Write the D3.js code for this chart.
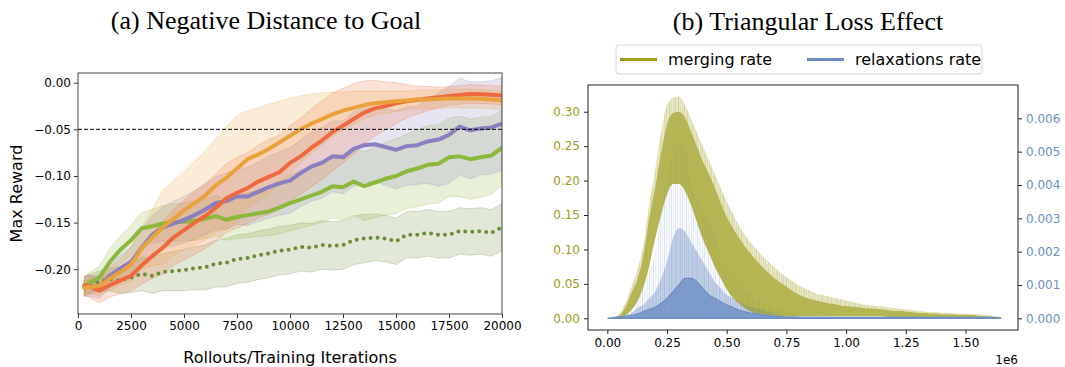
<!DOCTYPE html>
<html>
<head>
<meta charset="utf-8">
<script src="https://cdn.jsdelivr.net/npm/d3@7"></script>
<style>
  body { margin: 0; background: #fff; }
  text { font-family: "DejaVu Sans", sans-serif; }
  .title { font-family: "Liberation Serif", "Times New Roman", serif; font-size: 26px; }
</style>
</head>
<body>
<svg id="fig" width="1065" height="367"></svg>
<script>
// ---- (a) negative distance to goal ----
const iters = [300, 500, 1000, 1500, 2000, 2500, 3000, 3500, 4000, 4500,
  5000, 5500, 6000, 6500, 7000, 7500, 8000, 8500, 9000, 9500,
  10000, 10500, 11000, 11500, 12000, 12500, 13000, 13500, 14000, 14500,
  15000, 15500, 16000, 16500, 17000, 17500, 18000, 18500, 19000, 19500, 20000]

const orangeMean = [-0.220, -0.219, -0.218, -0.210, -0.203, -0.195, -0.178, -0.166, -0.155, -0.146,
  -0.137, -0.129, -0.121, -0.110, -0.102, -0.092, -0.082, -0.077, -0.071, -0.064,
  -0.057, -0.050, -0.044, -0.039, -0.034, -0.030, -0.027, -0.024, -0.022, -0.021,
  -0.020, -0.019, -0.018, -0.018, -0.0175, -0.017, -0.017, -0.017, -0.0172, -0.018, -0.019]
const orangeSpread = [.008, .008, .010, .012, .014, .018, .022, .030, .040, .040,
  .042, .045, .048, .050, .055, .057, .052, .050, .048, .044,
  .040, .036, .032, .028, .024, .020, .018, .015, .013, .012,
  .011, .010, .010, .010, .010, .010, .010, .010, .010, .010, .010]

const redMean = [-0.217, -0.218, -0.223, -0.217, -0.212, -0.207, -0.196, -0.186, -0.177, -0.166,
  -0.158, -0.150, -0.143, -0.134, -0.124, -0.118, -0.113, -0.106, -0.101, -0.096,
  -0.086, -0.079, -0.070, -0.062, -0.053, -0.046, -0.039, -0.032, -0.0275, -0.025,
  -0.022, -0.020, -0.0186, -0.017, -0.0157, -0.0143, -0.0132, -0.012, -0.0125, -0.0129, -0.0136]
const redSpread = [.010, .012, .013, .013, .014, .016, .020, .024, .028, .030,
  .032, .034, .035, .036, .037, .038, .038, .039, .040, .040,
  .040, .041, .042, .042, .042, .040, .038, .034, .030, .026,
  .022, .018, .015, .013, .011, .010, .010, .010, .010, .010, .010]

const purpleMean = [-0.219, -0.218, -0.219, -0.207, -0.199, -0.192, -0.177, -0.163, -0.155, -0.151,
  -0.147, -0.142, -0.136, -0.129, -0.127, -0.122, -0.122, -0.117, -0.112, -0.108,
  -0.105, -0.097, -0.090, -0.086, -0.079, -0.080, -0.071, -0.067, -0.066, -0.069,
  -0.072, -0.068, -0.067, -0.063, -0.061, -0.056, -0.047, -0.051, -0.049, -0.048, -0.044]
const purpleSpread = [.010, .011, .012, .013, .014, .016, .018, .020, .022, .024,
  .025, .026, .027, .028, .030, .030, .031, .032, .033, .034,
  .035, .036, .037, .038, .038, .039, .040, .040, .040, .041,
  .042, .042, .042, .045, .050, .052, .052, .052, .050, .050, .050]

const greenMean = [-0.219, -0.215, -0.209, -0.192, -0.179, -0.169, -0.156, -0.154, -0.151, -0.150,
  -0.149, -0.148, -0.146, -0.143, -0.147, -0.144, -0.142, -0.140, -0.138, -0.134,
  -0.129, -0.125, -0.121, -0.117, -0.111, -0.112, -0.106, -0.111, -0.107, -0.103,
  -0.100, -0.095, -0.092, -0.088, -0.087, -0.080, -0.079, -0.082, -0.080, -0.078, -0.070]
const greenSpread = [.010, .011, .012, .014, .015, .016, .017, .018, .019, .020,
  .020, .021, .021, .022, .022, .023, .024, .025, .026, .028,
  .030, .031, .032, .033, .034, .035, .036, .037, .038, .039,
  .040, .040, .041, .042, .042, .042, .043, .043, .043, .042, .040]

const dottedMean = [-0.219, -0.216, -0.213, -0.211, -0.212, -0.209, -0.205, -0.207, -0.203, -0.202,
  -0.201, -0.199, -0.198, -0.194, -0.193, -0.189, -0.188, -0.185, -0.183, -0.180,
  -0.179, -0.176, -0.177, -0.174, -0.175, -0.174, -0.169, -0.167, -0.166, -0.167,
  -0.170, -0.163, -0.163, -0.161, -0.163, -0.163, -0.159, -0.160, -0.159, -0.161, -0.155]
const dottedSpread = [.010, .010, .011, .012, .014, .016, .018, .019, .020, .021,
  .022, .023, .024, .025, .026, .026, .026, .026, .026, .026,
  .026, .026, .026, .026, .026, .026, .026, .026, .025, .025,
  .025, .025, .025, .025, .025, .025, .025, .025, .025, .025, .025]

const leftXTicks = [0, 2500, 5000, 7500, 10000, 12500, 15000, 17500, 20000]
const leftYTicks = [0, -0.05, -0.10, -0.15, -0.20]
const goalLine = -0.05

// ---- (b) triangular loss effect ----
const steps = [0, .025, .05, .075, .1, .125, .15, .175, .2, .225,
  .25, .275, .3, .325, .35, .375, .4, .425, .45, .475,
  .5, .525, .55, .575, .6, .625, .65, .675, .7, .725,
  .75, .775, .8, .825, .85, .875, .9, .925, .95, .975,
  1.0, 1.025, 1.05, 1.075, 1.1, 1.125, 1.15, 1.175, 1.2, 1.225,
  1.25, 1.275, 1.3, 1.325, 1.35, 1.375, 1.4, 1.425, 1.45, 1.475,
  1.5, 1.525, 1.55, 1.575, 1.6, 1.625, 1.65] // x 1e6

const mergeLo = [0, 0, .001, .004, .012, .024, .044, .075, .115, .15,
  .18, .195, .195, .185, .165, .14, .115, .095, .075, .058,
  .042, .03, .022, .015, .01, .007, .005, .004, .004, .003,
  .003, .003, .003, .003, .003, .003, .003, .003, .003, .003,
  .003, .003, .003, .003, .003, .003, .003, .002, .002, .002,
  .002, .002, .002, .002, .001, .001, .001, .001, .001, .001,
  .001, .001, .001, .001, .001, 0, 0]
const mergeHi = [0, .001, .004, .016, .036, .056, .09, .145, .19, .24,
  .282, .298, .3, .292, .272, .25, .228, .21, .19, .168,
  .148, .132, .118, .105, .094, .084, .075, .066, .058, .052,
  .046, .04, .035, .031, .028, .026, .024, .022, .021, .019,
  .018, .017, .016, .015, .0145, .014, .013, .012, .011, .011,
  .01, .009, .008, .008, .007, .007, .006, .006, .006, .005,
  .005, .005, .004, .003, .003, .002, .001]
const mergePeak = [0, .002, .006, .022, .045, .07, .105, .165, .215, .27,
  .31, .32, .322, .31, .29, .27, .25, .23, .21, .19,
  .17, .152, .136, .122, .11, .1, .09, .082, .074, .066,
  .06, .054, .048, .044, .04, .036, .034, .032, .03, .028,
  .026, .024, .022, .02, .019, .018, .017, .016, .015, .014,
  .013, .012, .011, .01, .009, .009, .008, .008, .007, .007,
  .007, .006, .006, .005, .004, .003, .002]

const relaxDense = [0, .00002, .00004, .00006, .00008, .00013, .0002, .00027, .00033, .00045,
  .0006, .0008, .001, .0012, .0012, .0011, .0009, .0007, .0006, .0005,
  .0004, .00033, .00025, .0002, .00016, .00013, .0001, .00008, .00006, .00005,
  .00004, .00004, .00003, .00003, .00003, .00003, .00003, .00003, .00003, .00003,
  .00003, .00003, .00003, .00003, .00003, .00003, .00003, .00003, .00003, .00003,
  .00003, .00003, .00003, .00003, .00003, .00003, .00003, .00003, .00003, .00003,
  .00003, .00003, .00003, .00003, .00003, .00002, 0]
const relaxLight = [0, .00003, .00006, .0001, .00015, .0003, .0004, .0006, .0008, .0012,
  .0017, .0024, .0027, .0026, .0023, .002, .0017, .0014, .0011, .0009,
  .0007, .0006, .0005, .0004, .00035, .0003, .00025, .0002, .00015, .0001,
  .00008, .00007, .00006, .00005, .00005, .00004, .00004, .00004, .00004, .00004,
  .00004, .00004, .00004, .00004, .00004, .00004, .00004, .00004, .00004, .00004,
  .00004, .00004, .00004, .00004, .00004, .00004, .00004, .00004, .00004, .00004,
  .00004, .00004, .00004, .00004, .00004, .00003, 0]
const relaxFaint = [0, .00004, .0001, .0002, .0003, .0006, .0009, .0014, .002, .0033,
  .0044, .0048, .0052, .0053, .004, .0035, .0032, .003, .0025, .0018,
  .0014, .0012, .001, .0008, .0007, .0006, .0005, .0004, .0003, .00025,
  .0002, .00018, .00015, .00012, .0001, .0001, .00008, .00008, .00006, .00006,
  .00005, .00005, .00005, .00005, .00005, .00005, .00005, .00005, .00005, .00005,
  .00005, .00005, .00005, .00005, .00005, .00005, .00005, .00005, .00005, .00005,
  .00005, .00005, .00005, .00005, .00005, .00003, 0]

const rightXTicks = [0, 0.25, 0.5, 0.75, 1.0, 1.25, 1.5]
const mergeTicks = [0, 0.05, 0.10, 0.15, 0.20, 0.25, 0.30]
const relaxTicks = [0, 0.001, 0.002, 0.003, 0.004, 0.005, 0.006]

const OLIVE = '#9c9c1a'
const BLUE = '#6d8ec4'

const svg = d3.select('#fig')
const defs = svg.append('defs')

// soft streaky texture for the noisy rate curves
function streaks(id, color, ops) {
  const p = defs.append('pattern').attr('id', id)
    .attr('patternUnits', 'userSpaceOnUse').attr('width', ops.length).attr('height', 400)
  ops.forEach((o, i) => {
    p.append('rect').attr('x', i).attr('y', 0).attr('width', 1).attr('height', 400)
      .attr('fill', color).attr('fill-opacity', o)
  })
}
streaks('oliveStreak', OLIVE, [0.38, 0.22, 0.3, 0.42, 0.25, 0.33, 0.2, 0.36, 0.27])
streaks('blueStreak', BLUE, [0.22, 0.06, 0.12, 0.05, 0.26, 0.04, 0.14, 0.08, 0.05, 0.18, 0.07])
streaks('blueLight', BLUE, [0.36, 0.28, 0.33, 0.24, 0.38, 0.3, 0.26, 0.34])

// ================= panel (a) =================
const A = { left: 78, right: 502, top: 73, bottom: 314 }
const xA = d3.scaleLinear().domain([0, 20000]).range([A.left, A.right])
const yA = d3.scaleLinear().domain([-0.248, 0.0104]).range([A.bottom, A.top])

defs.append('clipPath').attr('id', 'clipA')
  .append('rect').attr('x', A.left).attr('y', A.top)
  .attr('width', A.right - A.left).attr('height', A.bottom - A.top)

const series = [
  { mean: dottedMean, spread: dottedSpread, color: '#6d8c3a', dotted: true },
  { mean: greenMean, spread: greenSpread, color: '#8cb83c' },
  { mean: purpleMean, spread: purpleSpread, color: '#8b7fc1' },
  { mean: redMean, spread: redSpread, color: '#ee6a3e' },
  { mean: orangeMean, spread: orangeSpread, color: '#e9a23b' }
]

const gA = svg.append('g').attr('clip-path', 'url(#clipA)')

series.forEach(s => {
  const band = d3.area()
    .x((d, i) => xA(iters[i]))
    .y0((d, i) => yA(s.mean[i] - s.spread[i]))
    .y1((d, i) => yA(s.mean[i] + s.spread[i]))
  gA.append('path')
    .attr('d', band(iters))
    .attr('fill', s.color)
    .attr('fill-opacity', 0.2)
    .attr('stroke', s.color)
    .attr('stroke-opacity', 0.25)
    .attr('stroke-width', 1)
})

series.forEach(s => {
  const line = d3.line()
    .x((d, i) => xA(iters[i]))
    .y((d, i) => yA(s.mean[i]))
  const p = gA.append('path')
    .attr('d', line(iters))
    .attr('fill', 'none')
    .attr('stroke', s.color)
    .attr('stroke-linejoin', 'round')
    .attr('stroke-width', 4)
    .attr('stroke-linecap', 'round')
  if (s.dotted) p.attr('stroke-dasharray', '0 7')
})

// goal line
svg.append('line')
  .attr('x1', A.left).attr('x2', A.right)
  .attr('y1', yA(goalLine)).attr('y2', yA(goalLine))
  .attr('stroke', '#000').attr('stroke-width', 1).attr('stroke-dasharray', '4 2')

const axA = svg.append('g')
axA.append('g').attr('transform', `translate(0,${A.bottom})`)
  .call(d3.axisBottom(xA).tickValues(leftXTicks).tickFormat(d3.format('d')).tickSize(4).tickSizeOuter(0).tickPadding(3))
axA.append('g').attr('transform', `translate(${A.left},0)`)
  .call(d3.axisLeft(yA).tickValues(leftYTicks).tickFormat(d3.format('.2f')).tickSize(4).tickSizeOuter(0).tickPadding(3))
axA.selectAll('.domain').remove()
axA.selectAll('text').attr('font-family', '"DejaVu Sans", sans-serif').attr('font-size', 12).attr('fill', '#000')
axA.selectAll('line').attr('stroke', '#333')

svg.append('rect')
  .attr('x', A.left).attr('y', A.top)
  .attr('width', A.right - A.left).attr('height', A.bottom - A.top)
  .attr('fill', 'none').attr('stroke', '#444').attr('stroke-width', 1)

svg.append('text')
  .attr('x', (A.left + A.right) / 2).attr('y', 363)
  .attr('text-anchor', 'middle').attr('font-size', 16)
  .text('Rollouts/Training Iterations')
svg.append('text')
  .attr('transform', `translate(22,${(A.top + A.bottom) / 2}) rotate(-90)`)
  .attr('text-anchor', 'middle').attr('font-size', 16)
  .text('Max Reward')

svg.append('text').attr('class', 'title')
  .attr('x', 266).attr('y', 29).attr('text-anchor', 'middle')
  .text('(a) Negative Distance to Goal')

// ================= panel (b) =================
const B = { left: 588, right: 1018, top: 85, bottom: 330 }
const xB = d3.scaleLinear().domain([-0.081, 1.72]).range([B.left, B.right])
const yB = d3.scaleLinear().domain([-0.017, 0.3388]).range([B.bottom, B.top])
const yR = d3.scaleLinear().domain([-0.00035, 0.00700]).range([B.bottom, B.top])

defs.append('clipPath').attr('id', 'clipB')
  .append('rect').attr('x', B.left).attr('y', B.top)
  .attr('width', B.right - B.left).attr('height', B.bottom - B.top)

const gB = svg.append('g').attr('clip-path', 'url(#clipB)')

const areaB = (lo, hi, scale) => d3.area()
  .x((d, i) => xB(steps[i]))
  .y0((d, i) => scale(lo[i]))
  .y1((d, i) => scale(hi[i]))
  .curve(d3.curveMonotoneX)(steps)

const zeros = steps.map(() => 0)

// relaxations: faint spikes + light haze underneath the merging curve
gB.append('path').attr('d', areaB(zeros, relaxFaint, yR))
  .attr('fill', 'url(#blueStreak)')
gB.append('path').attr('d', areaB(zeros, relaxLight, yR))
  .attr('fill', 'url(#blueLight)')

// merging rate: spiky top + dense body
gB.append('path').attr('d', areaB(mergeHi, mergePeak, yB))
  .attr('fill', 'url(#oliveStreak)')
gB.append('path').attr('d', areaB(mergeLo, mergeHi, yB))
  .attr('fill', OLIVE).attr('fill-opacity', 0.75)

// relaxations drawn over (twin axis)
gB.append('path').attr('d', areaB(zeros, relaxLight, yR))
  .attr('fill', BLUE).attr('fill-opacity', 0.12)
gB.append('path').attr('d', areaB(zeros, relaxDense, yR))
  .attr('fill', BLUE).attr('fill-opacity', 0.8)
  .attr('stroke', BLUE).attr('stroke-width', 1.2)

const axB = svg.append('g')
axB.append('g').attr('transform', `translate(0,${B.bottom})`)
  .call(d3.axisBottom(xB).tickValues(rightXTicks).tickFormat(d3.format('.2f')).tickSize(4).tickSizeOuter(0).tickPadding(4))
const leftB = axB.append('g').attr('transform', `translate(${B.left},0)`)
  .call(d3.axisLeft(yB).tickValues(mergeTicks).tickFormat(d3.format('.2f')).tickSize(4).tickSizeOuter(0).tickPadding(4))
const rightB = axB.append('g').attr('transform', `translate(${B.right},0)`)
  .call(d3.axisRight(yR).tickValues(relaxTicks).tickFormat(d3.format('.3f')).tickSize(4).tickSizeOuter(0).tickPadding(4))
axB.selectAll('.domain').remove()
axB.selectAll('text').attr('font-family', '"DejaVu Sans", sans-serif').attr('font-size', 12).attr('fill', '#000')
axB.selectAll('line').attr('stroke', '#222')
leftB.selectAll('text').attr('fill', OLIVE)
rightB.selectAll('text').attr('fill', BLUE)

svg.append('rect')
  .attr('x', B.left).attr('y', B.top)
  .attr('width', B.right - B.left).attr('height', B.bottom - B.top)
  .attr('fill', 'none').attr('stroke', '#222').attr('stroke-width', 1)

svg.append('text')
  .attr('x', B.right).attr('y', 364).attr('text-anchor', 'end').attr('font-size', 12)
  .text('1e6')

svg.append('text').attr('class', 'title')
  .attr('x', 808).attr('y', 30).attr('text-anchor', 'middle')
  .text('(b) Triangular Loss Effect')

// legend
const legendItems = [
  { label: 'merging rate', color: OLIVE, x: 620 },
  { label: 'relaxations rate', color: BLUE, x: 807 }
]
const lg = svg.append('g')
lg.append('rect')
  .attr('x', 616).attr('y', 45).attr('width', 366).attr('height', 29).attr('rx', 3)
  .attr('fill', '#fff').attr('fill-opacity', 0.8).attr('stroke', '#d6d6d6')
legendItems.forEach(it => {
  lg.append('line').attr('x1', it.x).attr('x2', it.x + 37).attr('y1', 59.5).attr('y2', 59.5)
    .attr('stroke', it.color).attr('stroke-width', 3)
  lg.append('text').attr('x', it.x + 48).attr('y', 65).attr('font-size', 16).text(it.label)
})
</script>
</body>
</html>
